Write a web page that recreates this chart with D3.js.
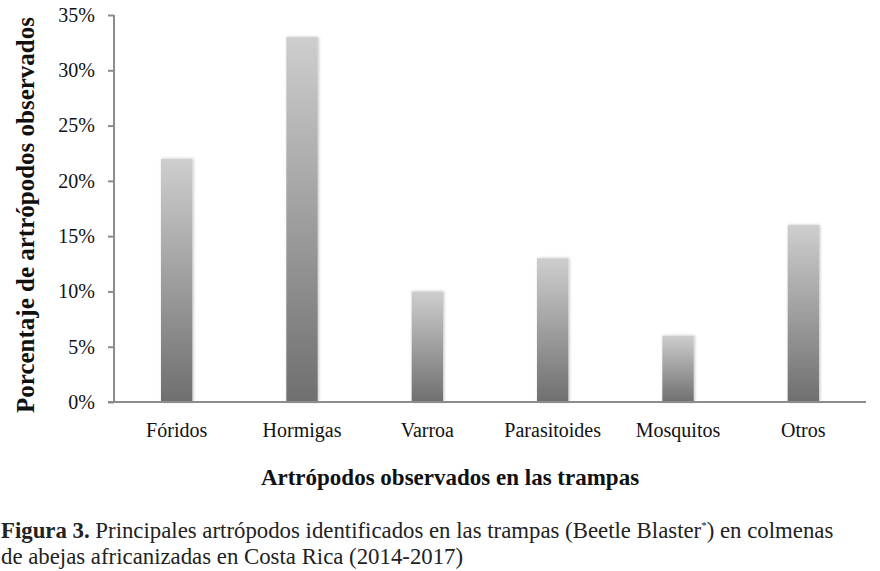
<!DOCTYPE html>
<html>
<head>
<meta charset="utf-8">
<script src="https://cdn.jsdelivr.net/npm/d3@7"></script>
<style>
  body { margin: 0; background: #fff; }
  svg { display: block; font-family: "Liberation Serif", "Times New Roman", serif; }
</style>
</head>
<body>
<svg id="chart"></svg>
<script>
// data
const categories = ['Fóridos', 'Hormigas', 'Varroa', 'Parasitoides', 'Mosquitos', 'Otros'];
const values = [22, 33, 10, 13, 6, 16];
const yTicks = [0, 5, 10, 15, 20, 25, 30, 35];

const w = 880;
const h = 571;
const serif = '"Liberation Serif", "Times New Roman", serif';
const svg = d3.select('#chart').attr('width', w).attr('height', h);

// gradient for the bars (light on top, dark at the bottom)
const defs = svg.append('defs');
const grad = defs.append('linearGradient')
  .attr('id', 'barGrad')
  .attr('x1', 0).attr('y1', 0).attr('x2', 0).attr('y2', 1);
grad.append('stop').attr('offset', '0%').attr('stop-color', '#cecece');
grad.append('stop').attr('offset', '100%').attr('stop-color', '#6f6f6f');

const shadow = defs.append('filter').attr('id', 'shadow')
  .attr('x', '-30%').attr('y', '-5%').attr('width', '160%').attr('height', '110%');
shadow.append('feDropShadow')
  .attr('dx', 1).attr('dy', 0).attr('stdDeviation', 1.5)
  .attr('flood-color', '#000').attr('flood-opacity', 0.25);

// scales
const x = d3.scaleBand()
  .domain(categories)
  .range([114, 866])
  .paddingInner(0.75)
  .paddingOuter(0.375);
const y = d3.scaleLinear().domain([0, 35]).range([402, 15]);

// bars
svg.append('g')
  .selectAll('rect')
  .data(values)
  .join('rect')
  .attr('x', (d, i) => x(categories[i]))
  .attr('y', d => y(d))
  .attr('width', x.bandwidth())
  .attr('height', d => y(0) - y(d))
  .attr('fill', 'url(#barGrad)')
  .attr('filter', 'url(#shadow)');

// y axis
const yAxis = d3.axisLeft(y)
  .tickValues(yTicks)
  .tickSize(6)
  .tickPadding(13)
  .tickFormat(d => d + '%');
const gy = svg.append('g').attr('transform', 'translate(114,0)').call(yAxis);
gy.attr('font-family', serif);
gy.select('.domain').attr('stroke', '#8c8c8c').attr('stroke-width', 2).attr('d', 'M0,15V402');
gy.selectAll('.tick line').attr('stroke', '#8c8c8c').attr('stroke-width', 2);
gy.selectAll('.tick text')
  .attr('font-size', 20)
  .attr('fill', '#111');

// x axis
const xAxis = d3.axisBottom(x).tickSize(0).tickPadding(21);
const gx = svg.append('g').attr('transform', 'translate(0,402)').call(xAxis);
gx.attr('font-family', serif);
gx.select('.domain').attr('stroke', '#8c8c8c').attr('stroke-width', 2).attr('d', 'M108,0H866');
gx.selectAll('.tick text')
  .attr('font-size', 20)
  .attr('fill', '#111');

// axis titles
svg.append('text')
  .attr('transform', 'translate(34,215) rotate(-90)')
  .attr('text-anchor', 'middle')
  .attr('font-size', 25)
  .attr('font-weight', 'bold')
  .attr('fill', '#111')
  .text('Porcentaje de artrópodos observados');

svg.append('text')
  .attr('x', 450)
  .attr('y', 485)
  .attr('text-anchor', 'middle')
  .attr('font-size', 23)
  .attr('font-weight', 'bold')
  .attr('fill', '#111')
  .text('Artrópodos observados en las trampas');

// caption
const cap1 = svg.append('text').attr('x', 1).attr('y', 538).attr('font-size', 22.8).attr('fill', '#222');
cap1.append('tspan').attr('font-weight', 'bold').text('Figura 3.');
cap1.append('tspan').text(' Principales artrópodos identificados en las trampas (Beetle Blaster');
cap1.append('tspan').attr('font-size', 11).attr('dy', -9).text('*');
cap1.append('tspan').attr('dy', 9).text(') en colmenas');

svg.append('text').attr('x', 1).attr('y', 564).attr('font-size', 22.8).attr('fill', '#222')
  .text('de abejas africanizadas en Costa Rica (2014-2017)');
</script>
</body>
</html>
